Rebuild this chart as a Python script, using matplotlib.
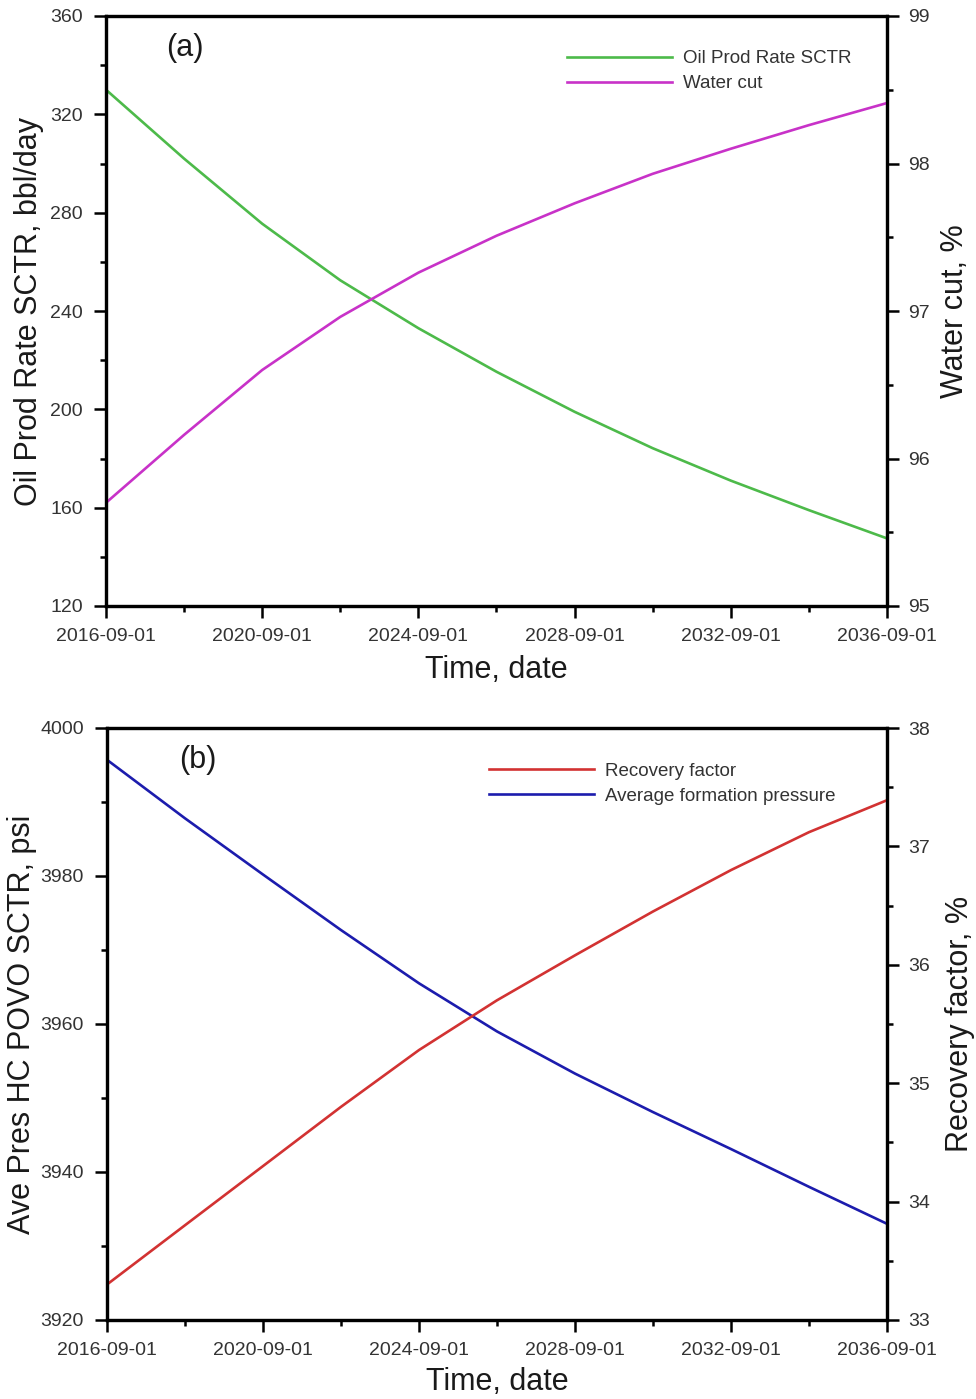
import matplotlib
matplotlib.use('Agg')
import matplotlib.pyplot as plt
import matplotlib.dates as mdates
from matplotlib.ticker import MultipleLocator, FixedLocator
import numpy as np

plt.rcParams['font.family'] = ['Liberation Sans', 'DejaVu Sans']

# ---------------- data ----------------
dates = ['2016-09-01', '2018-09-01', '2020-09-01', '2022-09-01', '2024-09-01',
         '2026-09-01', '2028-09-01', '2030-09-01', '2032-09-01', '2034-09-01',
         '2036-09-01']
oil_rate = [330.0, 302.0, 275.5, 252.5, 233.0, 215.3, 199.0, 184.2, 171.0, 159.0, 147.5]
water_cut = [95.70, 96.16, 96.60, 96.96, 97.26, 97.51, 97.73, 97.93, 98.10, 98.26, 98.41]
pressure = [3995.7, 3987.8, 3980.2, 3972.7, 3965.5, 3959.0, 3953.3, 3948.1, 3943.1, 3938.0, 3933.0]
recovery = [33.30, 33.80, 34.30, 34.80, 35.28, 35.70, 36.08, 36.45, 36.80, 37.12, 37.39]
major_dates = ['2016-09-01', '2020-09-01', '2024-09-01', '2028-09-01', '2032-09-01', '2036-09-01']
minor_dates = ['2018-09-01', '2022-09-01', '2026-09-01', '2030-09-01', '2034-09-01']

x = mdates.date2num(np.array(dates, dtype='datetime64[D]'))
xmaj = mdates.date2num(np.array(major_dates, dtype='datetime64[D]'))
xmin = mdates.date2num(np.array(minor_dates, dtype='datetime64[D]'))

W, H = 976, 1399
fig = plt.figure(figsize=(W / 100, H / 100), dpi=100)

TICK_FS = 14
LAB_FS = 22
LEG_FS = 13.5
TICK_COLOR = '#333333'
LAB_COLOR = '#1a1a1a'
SPINE_W = 2.3


def style_axes(ax, twin):
    for s in ax.spines.values():
        s.set_linewidth(SPINE_W)
    for t in (twin.spines.values()):
        t.set_linewidth(SPINE_W)
    ax.xaxis.set_major_locator(FixedLocator(xmaj))
    ax.xaxis.set_minor_locator(FixedLocator(xmin))
    ax.set_xticklabels(major_dates)
    ax.tick_params(axis='both', which='major', direction='out', length=8.5, width=1.8,
                   labelsize=TICK_FS, labelcolor=TICK_COLOR, top=False, right=False)
    ax.tick_params(axis='both', which='minor', direction='out', length=4.3, width=1.8,
                   top=False, right=False)
    ax.tick_params(axis='x', which='major', pad=7)
    ax.tick_params(axis='y', which='major', pad=8)
    twin.tick_params(axis='y', which='major', direction='out', length=8.5, width=1.8,
                     labelsize=TICK_FS, labelcolor=TICK_COLOR, pad=7)
    twin.tick_params(axis='y', which='minor', direction='out', length=4.3, width=1.8)


def place_legend(ax, handles, labels, x0, y0):
    leg = ax.legend(handles, labels, loc='upper left', bbox_to_anchor=(x0, y0),
                    frameon=False, fontsize=LEG_FS, handlelength=5.6, handletextpad=0.6,
                    borderpad=0, borderaxespad=0, labelspacing=0.42)
    for t in leg.get_texts():
        t.set_color(TICK_COLOR)
    return leg


# ---------------- panel (a) ----------------
ax1 = fig.add_axes([106 / W, 1 - 606 / H, 781 / W, 590 / H])
tw1 = ax1.twinx()
l1, = ax1.plot(x, oil_rate, color='#4dba4a', lw=1.9, label='Oil Prod Rate SCTR')
l2, = tw1.plot(x, water_cut, color='#c832c8', lw=1.9, label='Water cut')
ax1.set_xlim(xmaj[0], xmaj[-1])
ax1.set_ylim(120, 360)
tw1.set_ylim(95, 99)
ax1.yaxis.set_major_locator(MultipleLocator(40))
ax1.yaxis.set_minor_locator(MultipleLocator(20))
tw1.yaxis.set_major_locator(MultipleLocator(1))
tw1.yaxis.set_minor_locator(MultipleLocator(0.5))
style_axes(ax1, tw1)
ax1.set_xlabel('Time, date', fontsize=LAB_FS, color=LAB_COLOR)
ax1.set_ylabel('Oil Prod Rate SCTR, bbl/day', fontsize=LAB_FS, color=LAB_COLOR)
tw1.set_ylabel('Water cut, %', fontsize=LAB_FS, color=LAB_COLOR)
ax1.xaxis.set_label_coords(0.5, -0.108)
ax1.xaxis.label.set_va('center')
ax1.yaxis.set_label_coords(-0.098, 0.5)
ax1.yaxis.label.set_va('center')
tw1.yaxis.set_label_coords(1.087, 0.5)
tw1.yaxis.label.set_va('center')
ax1.text(0.101, 0.946, '(a)', transform=ax1.transAxes, fontsize=LAB_FS,
         ha='center', va='center', color=LAB_COLOR)
place_legend(tw1, [l1, l2], ['Oil Prod Rate SCTR', 'Water cut'], 0.590, 0.942)

# ---------------- panel (b) ----------------
ax2 = fig.add_axes([107 / W, 1 - 1320 / H, 780 / W, 592 / H])
tw2 = ax2.twinx()
l3, = tw2.plot(x, recovery, color='#d23232', lw=1.9, label='Recovery factor')
l4, = ax2.plot(x, pressure, color='#1c1cad', lw=1.9, label='Average formation pressure')
ax2.set_xlim(xmaj[0], xmaj[-1])
ax2.set_ylim(3920, 4000)
tw2.set_ylim(33, 38)
ax2.yaxis.set_major_locator(MultipleLocator(20))
ax2.yaxis.set_minor_locator(MultipleLocator(10))
tw2.yaxis.set_major_locator(MultipleLocator(1))
tw2.yaxis.set_minor_locator(MultipleLocator(0.5))
style_axes(ax2, tw2)
ax2.set_xlabel('Time, date', fontsize=LAB_FS, color=LAB_COLOR)
ax2.set_ylabel('Ave Pres HC POVO SCTR, psi', fontsize=LAB_FS, color=LAB_COLOR)
tw2.set_ylabel('Recovery factor, %', fontsize=LAB_FS, color=LAB_COLOR)
ax2.xaxis.set_label_coords(0.5, -0.105)
ax2.xaxis.label.set_va('center')
ax2.yaxis.set_label_coords(-0.109, 0.5)
ax2.yaxis.label.set_va('center')
tw2.yaxis.set_label_coords(1.094, 0.5)
tw2.yaxis.label.set_va('center')
ax2.text(0.116, 0.946, '(b)', transform=ax2.transAxes, fontsize=LAB_FS,
         ha='center', va='center', color=LAB_COLOR)
place_legend(tw2, [l3, l4], ['Recovery factor', 'Average formation pressure'], 0.490, 0.941)

fig.savefig('out.png', dpi=100)
